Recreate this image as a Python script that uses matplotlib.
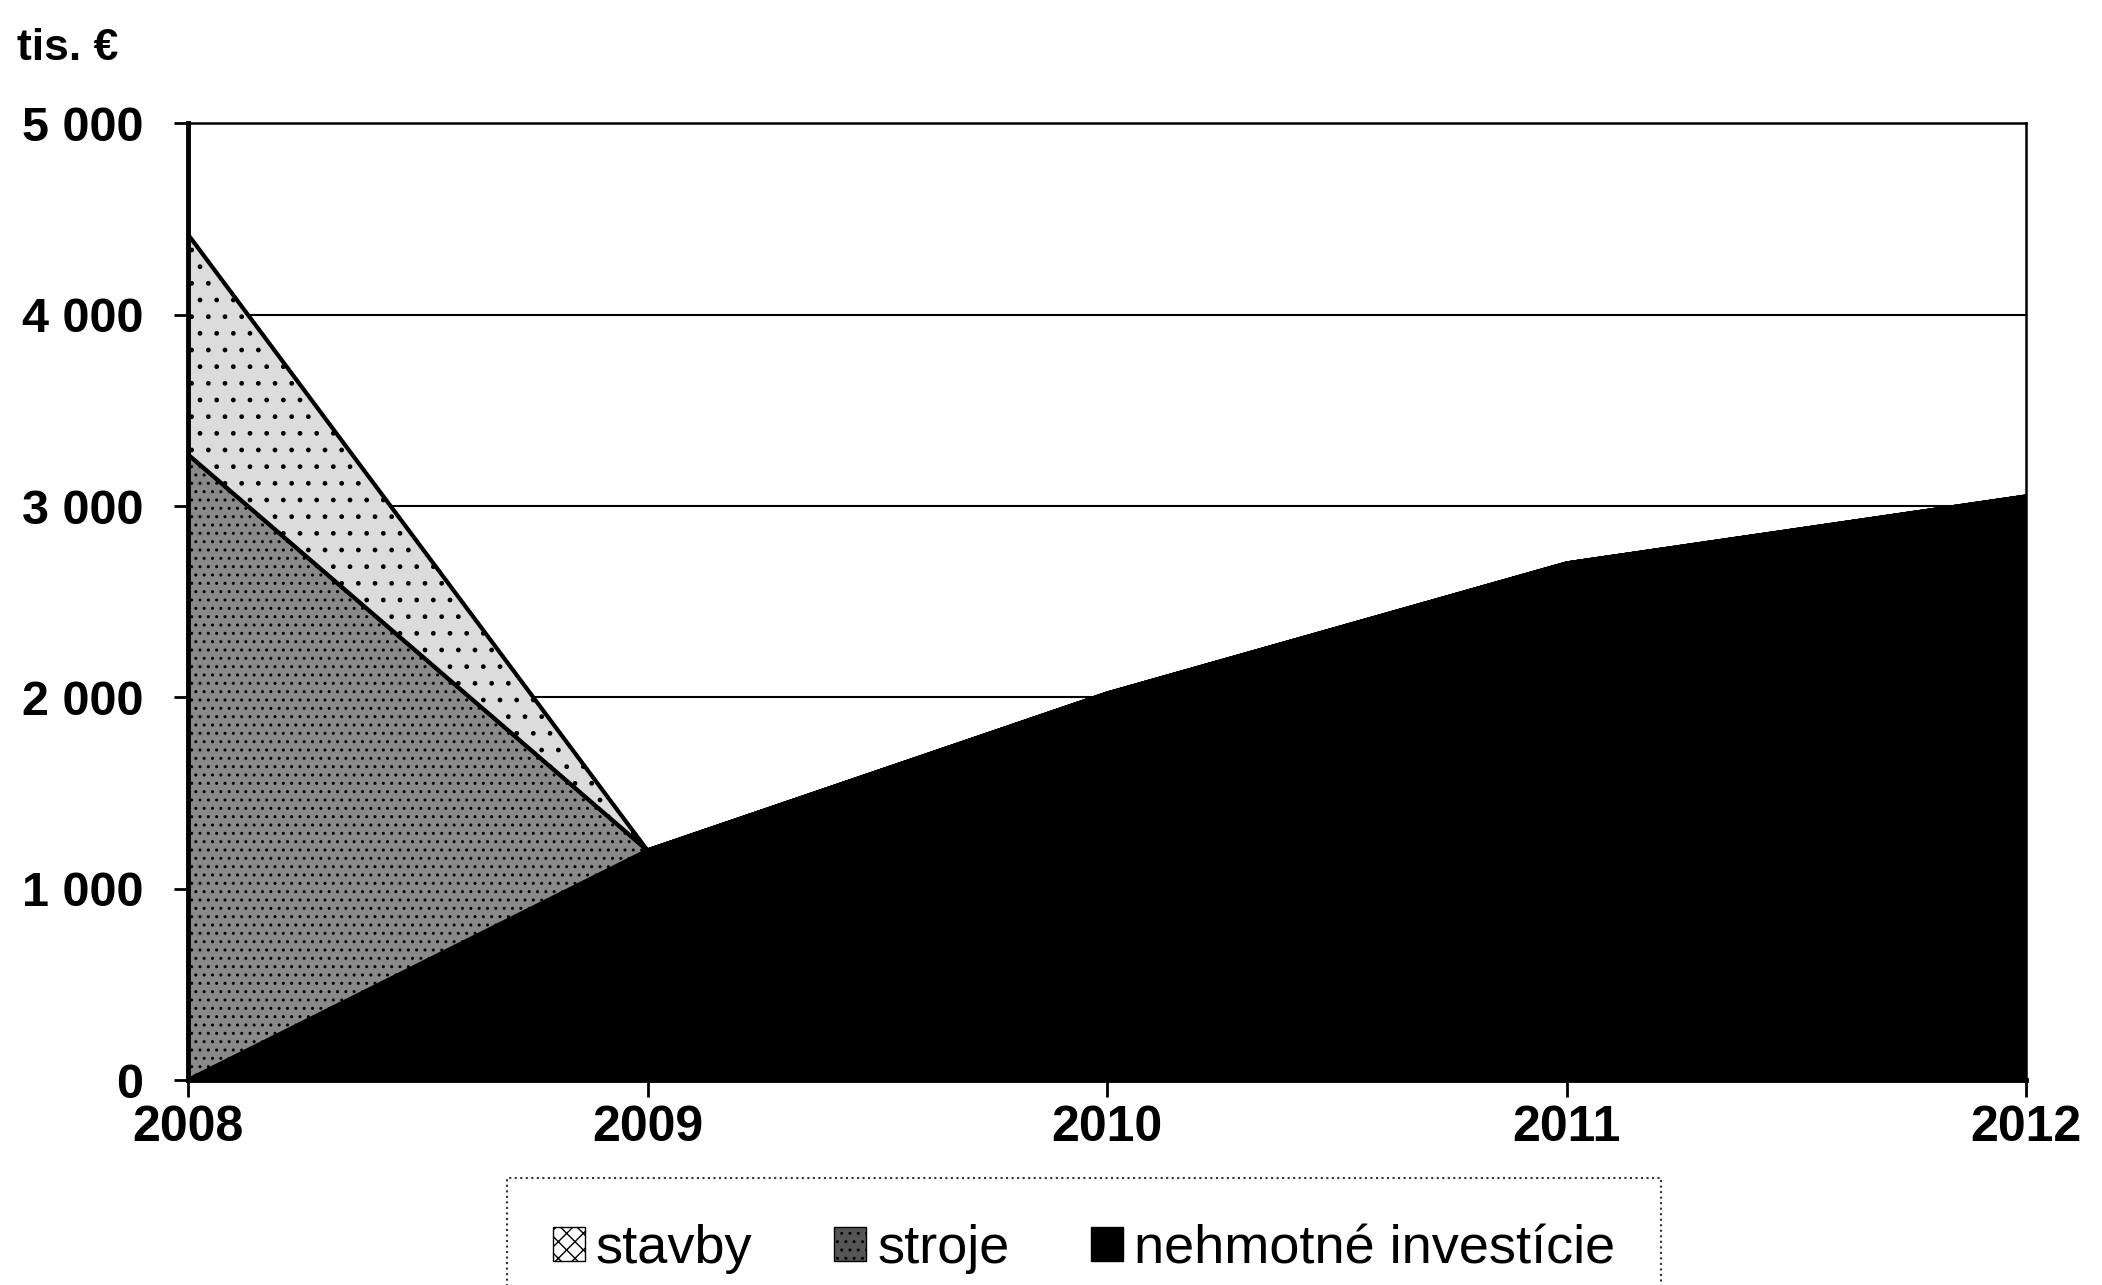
import matplotlib
matplotlib.use("Agg")
import matplotlib.pyplot as plt
from matplotlib.patches import Patch

years = [2008, 2009, 2010, 2011, 2012]
nehmotne = [0, 1200, 2020, 2700, 3050]
stroje = [3270, 0, 0, 0, 0]
stavby = [1150, 0, 0, 0, 0]
labels = ["stavby", "stroje", "nehmotné investície"]
yticks = [0, 1000, 2000, 3000, 4000, 5000]
ytick_labels = ["0", "1 000", "2 000", "3 000", "4 000", "5 000"]

plt.rcParams['font.family'] = ['Liberation Sans', 'DejaVu Sans']
plt.rcParams['hatch.linewidth'] = 1.0

fig = plt.figure(figsize=(21.02, 12.85), dpi=100)
ax = fig.add_axes([0.0894, 0.1595, 0.8746, 0.7445])

for y in [1000, 2000, 3000, 4000, 5000]:
    ax.axhline(y, color='black', lw=1.5, zorder=0)

colors = ['black', '#8a8a8a', '#dcdcdc']
polys = ax.stackplot(years, nehmotne, stroje, stavby, colors=colors,
                     edgecolor='black', linewidth=3.0, zorder=2)
polys[1].set_hatch('..')
polys[2].set_hatch('.')

ax.set_xlim(2008, 2012)
ax.set_ylim(0, 5000)
ax.set_xticks(years)
ax.set_xticklabels([str(y) for y in years], fontsize=36, fontweight='bold')
ax.set_yticks(yticks)
ax.set_yticklabels(ytick_labels, fontsize=35, fontweight='bold')
ax.tick_params(axis='y', direction='out', length=10, width=2, pad=22)
ax.tick_params(axis='x', direction='out', length=12, width=2, pad=6)
for s in ['left', 'bottom']:
    ax.spines[s].set_linewidth(3.5)
for s in ['top', 'right']:
    ax.spines[s].set_linewidth(1.8)

fig.text(0.008, 0.978, "tis. €", fontsize=32, fontweight='bold', va='top', ha='left')

handles = [Patch(facecolor='white', edgecolor='black', hatch='xx', label=labels[0]),
           Patch(facecolor='#555555', edgecolor='black', hatch='..', label=labels[1]),
           Patch(facecolor='black', edgecolor='black', label=labels[2])]
leg = fig.legend(handles=handles, loc='upper left', bbox_to_anchor=(0.241, 0.083),
                 ncol=3, fontsize=39, frameon=True, fancybox=False,
                 handlelength=0.6, handleheight=0.6, handletextpad=0.2,
                 columnspacing=1.5, borderpad=0.85, borderaxespad=0)
fr = leg.get_frame()
fr.set_edgecolor('black')
fr.set_linestyle(':')
fr.set_linewidth(1.5)

fig.savefig("out.png", dpi=100)
